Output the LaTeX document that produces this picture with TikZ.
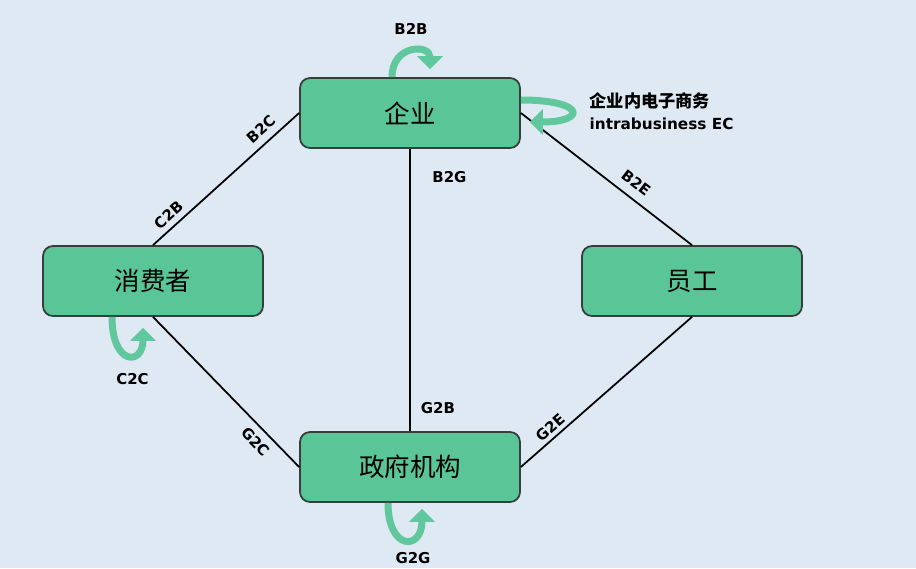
\documentclass[tikz,border=0pt]{standalone}
\usepackage{fontspec}
\usetikzlibrary{arrows.meta,positioning,calc}
\setsansfont{DejaVu Sans}
\newfontfamily\cjk{Noto Sans CJK SC}
\definecolor{ecgreen}{RGB}{90,198,152}
\definecolor{ecloop}{RGB}{96,200,156}
\definecolor{ecedge}{RGB}{55,60,60}
\definecolor{ecbg}{RGB}{222,233,243}

\begin{document}
\begin{tikzpicture}[
    party/.style={draw=ecedge,line width=1pt,fill=ecgreen,rounded corners=0.2cm,
      minimum width=4.4cm,minimum height=1.4cm,font=\cjk\fontsize{14.5}{17}\selectfont},
    link/.style={line width=1pt,black},
    tag/.style={font=\sffamily\bfseries\fontsize{8.5}{10}\selectfont,inner sep=2pt},
    selfarrow/.style={ecloop,line width=0.14cm,-{Triangle[width=0.5cm,length=0.26cm]}}]
      % Background
      \fill[ecbg] (0,0) rectangle (18.32,11.36);
      \useasboundingbox (0,0) rectangle (18.32,11.36);
      % Parties
      \node[party] (biz) at (8.2,9.1) {企业};
      \node[party] (cons) at (3.06,5.74) {消费者};
      \node[party] (emp) at (13.84,5.74) {员工};
      \node[party] (gov) at (8.2,2.02) {政府机构};
      % Links between parties
      \draw[link] (cons.north) -- node[tag,pos=0.16,sloped,above=1pt] {C2B}
                  node[tag,pos=0.8,sloped,above=2pt] {B2C} (biz.west);
      \draw[link] (biz.east) -- node[tag,pos=0.62,sloped,above=3pt] {B2E} (emp.north);
      \draw[link] (biz.south) -- node[tag,pos=0.1,right=0.36cm] {B2G}
                  node[tag,pos=0.92,right=0.13cm] {G2B} (gov.north);
      \draw[link] (cons.south) -- node[tag,pos=0.77,sloped,below=2pt] {G2C} (gov.west);
      \draw[link] (gov.east) -- node[tag,pos=0.21,sloped,above] {G2E} (emp.south);
      % Self loops
      \draw[selfarrow] ($(biz.north)+(-0.36,0)$) to[out=90,in=90,out distance=0.66cm,in distance=0.5cm]
            node[tag,pos=0.5,above=0.2cm,text=black] {B2B} ($(biz.north)+(0.4,0.16)$);
      \draw[selfarrow] ($(biz.east)+(0,0.26)$) to[out=0,in=0,out distance=1.3cm,in distance=1.14cm]
            node[tag,pos=0.5,right=0.23cm,text=black,align=left,font=\sffamily\bfseries\fontsize{8.7}{12.5}\selectfont]
            {{\cjk\fontsize{9.8}{12.5}\selectfont 企业内电子商务}\\intrabusiness EC} ($(biz.east)+(0.18,-0.18)$);
      \draw[selfarrow] ($(cons.south)+(-0.82,0)$) to[out=-90,in=-90,out distance=0.98cm,in distance=0.76cm]
            node[tag,pos=0.5,below=0.22cm,xshift=0.1cm,text=black] {C2C} ($(cons.south)+(-0.2,-0.22)$);
      \draw[selfarrow] ($(gov.south)+(-0.44,0)$) to[out=-90,in=-90,out distance=0.96cm,in distance=0.84cm]
            node[tag,pos=0.5,below=0.12cm,xshift=0.16cm,text=black] {G2G} ($(gov.south)+(0.24,-0.12)$);
    \end{tikzpicture}
\end{document}
